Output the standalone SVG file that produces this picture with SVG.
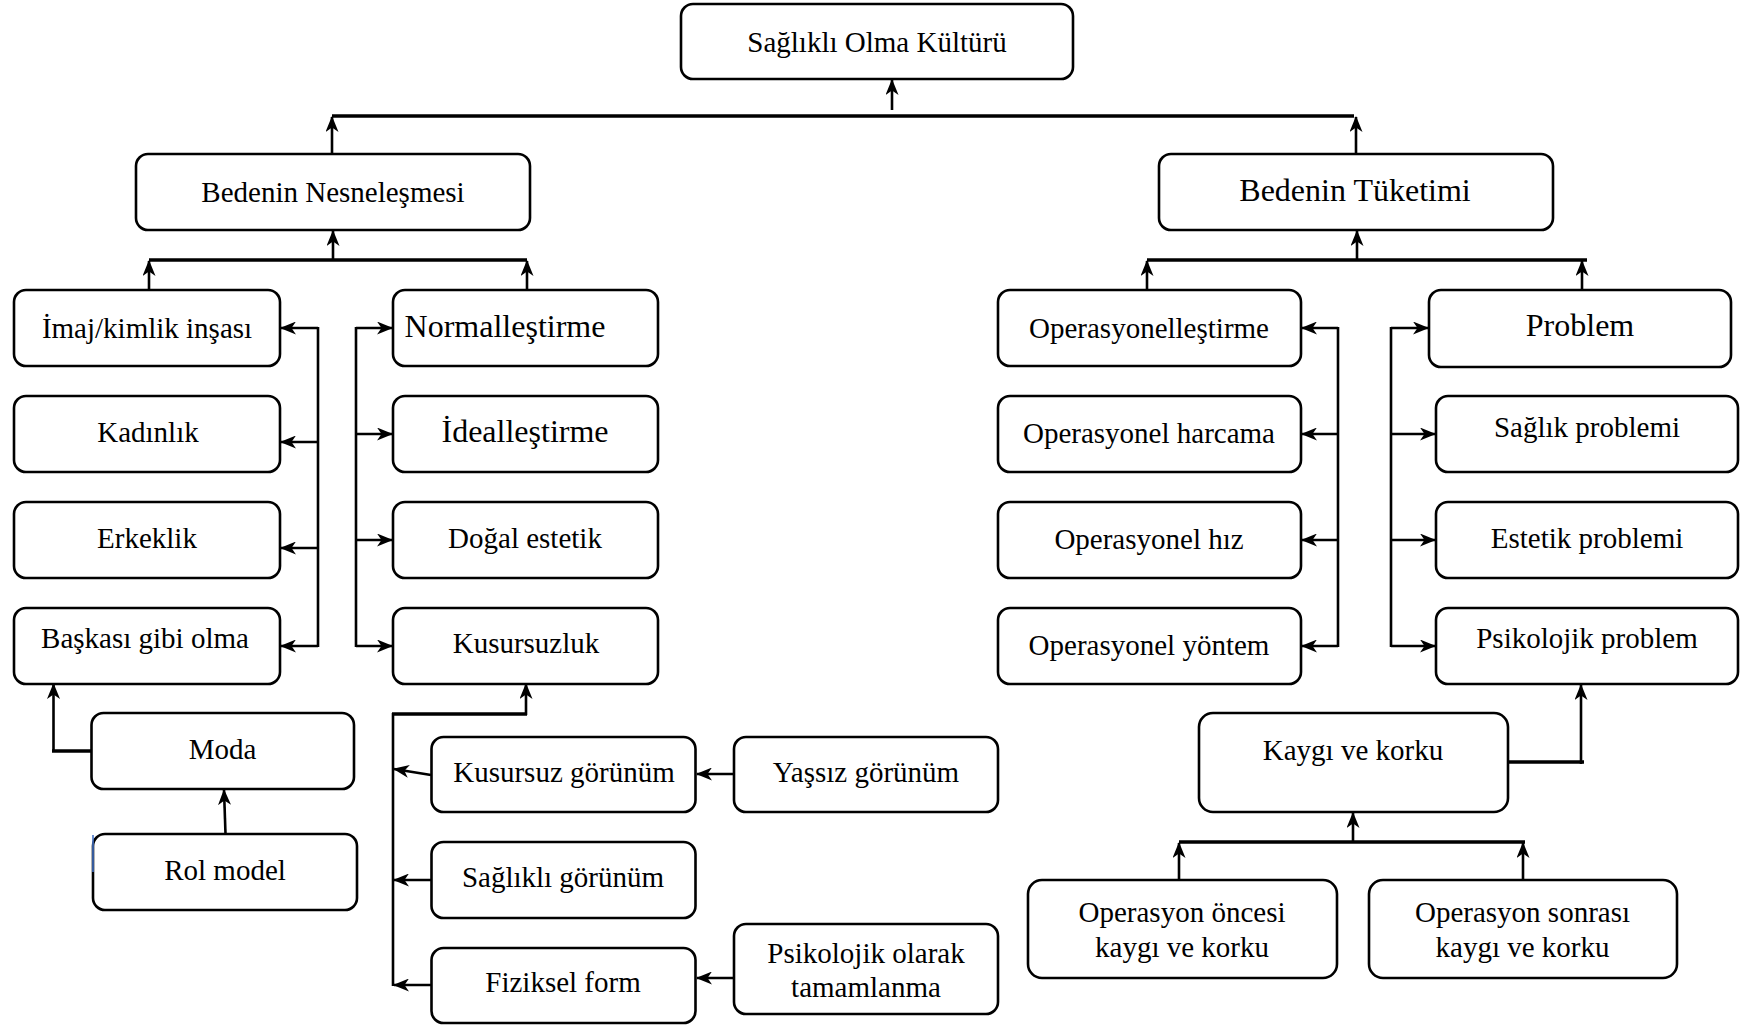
<svg xmlns="http://www.w3.org/2000/svg" width="1742" height="1026" viewBox="0 0 1742 1026">
<style>
.box{fill:#fff;stroke:#000;stroke-width:2.6}
.t{font-family:"Liberation Serif","Times New Roman",serif;font-size:29px;fill:#000;text-anchor:middle}
.big{font-size:32px}
.c{stroke:#000;stroke-width:2.6;fill:none}
.a{stroke:#000;stroke-width:2.6;fill:none;marker-end:url(#ah)}
.bus{stroke:#000;stroke-width:3.6;fill:none}
</style>
<defs>
<marker id="ah" viewBox="0 0 16 13" refX="15" refY="6.5" markerWidth="16" markerHeight="13" markerUnits="userSpaceOnUse" orient="auto">
<path d="M0,0 L16,6.5 L0,13 L4.5,6.5 z" fill="#000"/>
</marker>
</defs>
<rect width="1742" height="1026" fill="#fff"/>

<g id="connectors">
<line class="bus" x1="332" y1="116" x2="1354" y2="116"/>
<line class="a" x1="892" y1="110" x2="892" y2="80"/>
<line class="a" x1="332" y1="154" x2="332" y2="117"/>
<line class="a" x1="1356" y1="154" x2="1356" y2="117"/>

<line class="bus" x1="149" y1="260" x2="527" y2="260"/>
<line class="a" x1="333" y1="260" x2="333" y2="231"/>
<line class="a" x1="149" y1="290" x2="149" y2="261"/>
<line class="a" x1="527" y1="290" x2="527" y2="261"/>

<line class="bus" x1="1147" y1="260" x2="1587" y2="260"/>
<line class="a" x1="1357" y1="260" x2="1357" y2="231"/>
<line class="a" x1="1147" y1="290" x2="1147" y2="261"/>
<line class="a" x1="1582" y1="290" x2="1582" y2="261"/>

<line class="c" x1="318" y1="327" x2="318" y2="647"/>
<line class="a" x1="318" y1="328" x2="281" y2="328"/>
<line class="a" x1="318" y1="442" x2="281" y2="442"/>
<line class="a" x1="318" y1="548" x2="281" y2="548"/>
<line class="a" x1="318" y1="646" x2="281" y2="646"/>

<line class="c" x1="356" y1="327" x2="356" y2="647"/>
<line class="a" x1="356" y1="328" x2="392" y2="328"/>
<line class="a" x1="356" y1="434" x2="392" y2="434"/>
<line class="a" x1="356" y1="540" x2="392" y2="540"/>
<line class="a" x1="356" y1="646" x2="392" y2="646"/>

<line class="c" x1="1338" y1="327" x2="1338" y2="647"/>
<line class="a" x1="1338" y1="328" x2="1302" y2="328"/>
<line class="a" x1="1338" y1="434" x2="1302" y2="434"/>
<line class="a" x1="1338" y1="540" x2="1302" y2="540"/>
<line class="a" x1="1338" y1="646" x2="1302" y2="646"/>

<line class="c" x1="1391" y1="327" x2="1391" y2="647"/>
<line class="a" x1="1391" y1="328" x2="1428" y2="328"/>
<line class="a" x1="1391" y1="434" x2="1435" y2="434"/>
<line class="a" x1="1391" y1="540" x2="1435" y2="540"/>
<line class="a" x1="1391" y1="646" x2="1435" y2="646"/>

<line class="bus" x1="92" y1="751" x2="52" y2="751"/>
<line class="a" x1="53.5" y1="752" x2="53.5" y2="684"/>
<line class="a" x1="225.5" y1="834" x2="224" y2="790"/>

<line class="bus" x1="392" y1="714" x2="527" y2="714"/>
<line class="a" x1="526" y1="715" x2="526" y2="684"/>
<line class="c" x1="393" y1="713" x2="393" y2="986"/>
<line class="a" x1="431" y1="775" x2="394" y2="769"/>
<line class="a" x1="431" y1="880" x2="394" y2="880"/>
<line class="a" x1="431" y1="985" x2="394" y2="985"/>
<line class="a" x1="734" y1="774" x2="697" y2="774"/>
<line class="a" x1="734" y1="978" x2="697" y2="978"/>

<line class="bus" x1="1508" y1="762" x2="1584" y2="762"/>
<line class="a" x1="1581" y1="764" x2="1581" y2="685"/>

<line class="bus" x1="1179" y1="842" x2="1525" y2="842"/>
<line class="a" x1="1353" y1="842" x2="1353" y2="813"/>
<line class="a" x1="1179" y1="880" x2="1179" y2="843"/>
<line class="a" x1="1523" y1="880" x2="1523" y2="843"/>
</g>

<g id="n-saglikli-olma"><rect class="box" x="681" y="4" width="392" height="75" rx="12"/><text class="t" x="877" y="52">Sağlıklı Olma Kültürü</text></g>
<g id="n-nesnelesme"><rect class="box" x="136" y="154" width="394" height="76" rx="12"/><text class="t" x="333" y="202">Bedenin Nesneleşmesi</text></g>
<g id="n-tuketim"><rect class="box" x="1159" y="154" width="394" height="76" rx="12"/><text class="t big" x="1355" y="201">Bedenin Tüketimi</text></g>

<g id="n-imaj"><rect class="box" x="14" y="290" width="266" height="76" rx="12"/><text class="t" x="147" y="338">İmaj/kimlik inşası</text></g>
<g id="n-kadinlik"><rect class="box" x="14" y="396" width="266" height="76" rx="12"/><text class="t" x="148" y="442">Kadınlık</text></g>
<g id="n-erkeklik"><rect class="box" x="14" y="502" width="266" height="76" rx="12"/><text class="t" x="147" y="548">Erkeklik</text></g>
<g id="n-baskasi"><rect class="box" x="14" y="608" width="266" height="76" rx="12"/><text class="t" x="145" y="648">Başkası gibi olma</text></g>

<g id="n-normal"><rect class="box" x="393" y="290" width="265" height="76" rx="12"/><text class="t big" x="505" y="337">Normalleştirme</text></g>
<g id="n-ideal"><rect class="box" x="393" y="396" width="265" height="76" rx="12"/><text class="t big" x="525" y="442">İdealleştirme</text></g>
<g id="n-dogal"><rect class="box" x="393" y="502" width="265" height="76" rx="12"/><text class="t" x="525" y="548">Doğal estetik</text></g>
<g id="n-kusursuzluk"><rect class="box" x="393" y="608" width="265" height="76" rx="12"/><text class="t" x="526" y="653">Kusursuzluk</text></g>

<g id="n-operasyonel"><rect class="box" x="998" y="290" width="303" height="76" rx="12"/><text class="t" x="1149" y="338">Operasyonelleştirme</text></g>
<g id="n-harcama"><rect class="box" x="998" y="396" width="303" height="76" rx="12"/><text class="t" x="1149" y="443">Operasyonel harcama</text></g>
<g id="n-hiz"><rect class="box" x="998" y="502" width="303" height="76" rx="12"/><text class="t" x="1149" y="549">Operasyonel hız</text></g>
<g id="n-yontem"><rect class="box" x="998" y="608" width="303" height="76" rx="12"/><text class="t" x="1149" y="655">Operasyonel yöntem</text></g>

<g id="n-problem"><rect class="box" x="1429" y="290" width="302" height="77" rx="12"/><text class="t big" x="1580" y="336">Problem</text></g>
<g id="n-saglik"><rect class="box" x="1436" y="396" width="302" height="76" rx="12"/><text class="t" x="1587" y="437">Sağlık problemi</text></g>
<g id="n-estetik"><rect class="box" x="1436" y="502" width="302" height="76" rx="12"/><text class="t" x="1587" y="548">Estetik problemi</text></g>
<g id="n-psikolojik"><rect class="box" x="1436" y="608" width="302" height="76" rx="12"/><text class="t" x="1587" y="648">Psikolojik problem</text></g>

<g id="n-moda"><rect class="box" x="91.5" y="713" width="262.5" height="76" rx="12"/><text class="t" x="222.5" y="759">Moda</text></g>
<g id="n-rol"><rect class="box" x="93" y="834" width="264" height="76" rx="12"/><text class="t" x="225" y="880">Rol model</text><line x1="93" y1="835" x2="93" y2="872" stroke="#4472C4" stroke-width="1.6"/></g>

<g id="n-kusursuz"><rect class="box" x="431.5" y="737" width="264" height="75" rx="12"/><text class="t" x="564" y="782">Kusursuz görünüm</text></g>
<g id="n-yassiz"><rect class="box" x="734" y="737" width="264" height="75" rx="12"/><text class="t" x="866" y="782">Yaşsız görünüm</text></g>
<g id="n-saglikli"><rect class="box" x="431.5" y="842" width="264" height="76" rx="12"/><text class="t" x="563" y="887">Sağlıklı görünüm</text></g>
<g id="n-fiziksel"><rect class="box" x="431.5" y="948" width="264" height="75" rx="12"/><text class="t" x="563" y="992">Fiziksel form</text></g>
<g id="n-psiko-tam"><rect class="box" x="734" y="924" width="264" height="90" rx="12"/><text class="t" x="866" y="963">Psikolojik olarak</text><text class="t" x="866" y="997">tamamlanma</text></g>

<g id="n-kaygi"><rect class="box" x="1199" y="713" width="309" height="99" rx="14"/><text class="t" x="1353" y="760">Kaygı ve korku</text></g>
<g id="n-oncesi"><rect class="box" x="1028" y="880" width="309" height="98" rx="14"/><text class="t" x="1182" y="922">Operasyon öncesi</text><text class="t" x="1182" y="957">kaygı ve korku</text></g>
<g id="n-sonrasi"><rect class="box" x="1369" y="880" width="308" height="98" rx="14"/><text class="t" x="1522.5" y="922">Operasyon sonrası</text><text class="t" x="1522.5" y="957">kaygı ve korku</text></g>
</svg>
